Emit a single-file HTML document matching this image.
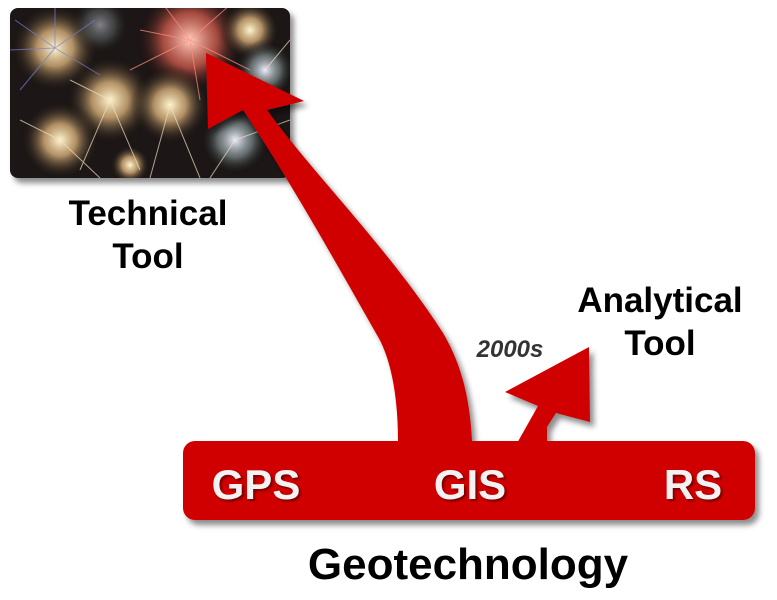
<!DOCTYPE html>
<html><head><meta charset="utf-8"><style>
html,body{margin:0;padding:0;background:#fff;}
body{width:777px;height:600px;position:relative;overflow:hidden;font-family:"Liberation Sans",Arial,sans-serif;}
.t{position:absolute;font-weight:bold;color:#000;text-align:center;white-space:nowrap;}
</style></head><body>
<svg width="777" height="600" style="position:absolute;left:0;top:0">
<defs>
<filter id="sh" x="-10%" y="-10%" width="130%" height="130%"><feDropShadow dx="4" dy="5" stdDeviation="3" flood-color="#000" flood-opacity="0.45"/></filter>
<radialGradient id="fw1"><stop offset="0" stop-color="#fff6d0"/><stop offset="0.4" stop-color="#d9b07a" stop-opacity="0.8"/><stop offset="1" stop-color="#000" stop-opacity="0"/></radialGradient>
<radialGradient id="fw2"><stop offset="0" stop-color="#ffd0c0"/><stop offset="0.5" stop-color="#e06050" stop-opacity="0.7"/><stop offset="1" stop-color="#000" stop-opacity="0"/></radialGradient>
<radialGradient id="fw3"><stop offset="0" stop-color="#eef"/><stop offset="0.5" stop-color="#8fa0a0" stop-opacity="0.6"/><stop offset="1" stop-color="#000" stop-opacity="0"/></radialGradient>
<clipPath id="pc"><rect x="10" y="8" width="280" height="170" rx="8"/></clipPath>
</defs>
<g filter="url(#sh)"><rect x="10" y="8" width="280" height="170" rx="8" fill="#1a1714"/></g>
<g clip-path="url(#pc)">
<circle cx="55" cy="48" r="45" fill="url(#fw1)"/>
<circle cx="190" cy="40" r="55" fill="url(#fw2)"/>
<circle cx="110" cy="100" r="45" fill="url(#fw1)"/>
<circle cx="170" cy="105" r="40" fill="url(#fw1)"/>
<circle cx="60" cy="140" r="40" fill="url(#fw1)"/>
<circle cx="250" cy="30" r="30" fill="url(#fw1)"/>
<circle cx="265" cy="70" r="30" fill="url(#fw3)"/>
<circle cx="235" cy="140" r="35" fill="url(#fw3)"/>
<circle cx="130" cy="165" r="20" fill="url(#fw1)"/>
<circle cx="100" cy="25" r="30" fill="url(#fw3)" opacity="0.5"/>
<g stroke-width="1" opacity="0.7">
<path d="M55,48 L15,20 M55,48 L95,20 M55,48 L20,90 M55,48 L100,75 M55,48 L55,5 M55,48 L10,50" stroke="#7a80d0"/>
<path d="M190,40 L130,70 M190,40 L250,70 M190,40 L160,0 M190,40 L230,5 M190,40 L140,30 M190,40 L200,100" stroke="#ff9080"/>
<path d="M110,100 L80,170 M110,100 L140,170 M110,100 L70,80 M170,105 L150,178 M170,105 L200,178 M60,140 L20,120 M60,140 L100,178 M235,140 L290,120 M235,140 L210,178 M265,70 L290,40" stroke="#f0e0c0"/>
</g>
</g>
<g filter="url(#sh)" fill="#d10000">
<path d="M206,53 L304,101 L267,110 C310,170 390,250 443,333 C462,365 470,400 472,441 L398,441 C398,400 392,360 377,335 C340,270 290,180 243,110 L208,129 Z"/>
<path d="M589,347 L590,422 L556,413 L547,427 L547,445 L516,445 L538,406 L505,392 Z"/>
<rect x="183" y="441" width="572" height="79" rx="12"/>
</g>
</svg>
<div class="t" style="left:48px;top:192px;width:200px;font-size:35px;line-height:43px;">Technical<br>Tool</div>
<div class="t" style="left:560px;top:279px;width:200px;font-size:35px;line-height:43px;">Analytical<br>Tool</div>
<div class="t" style="left:460px;top:336px;width:100px;font-size:24px;font-style:italic;color:#333;">2000s</div>
<div class="t" style="left:156px;top:461px;width:200px;font-size:42px;color:#f2f2f2;text-shadow:2px 2px 2px #700;">GPS</div>
<div class="t" style="left:370px;top:461px;width:200px;font-size:42px;color:#f2f2f2;text-shadow:2px 2px 2px #700;">GIS</div>
<div class="t" style="left:593px;top:461px;width:200px;font-size:42px;color:#f2f2f2;text-shadow:2px 2px 2px #700;">RS</div>
<div class="t" style="left:268px;top:540px;width:400px;font-size:44px;">Geotechnology</div>
</body></html>
